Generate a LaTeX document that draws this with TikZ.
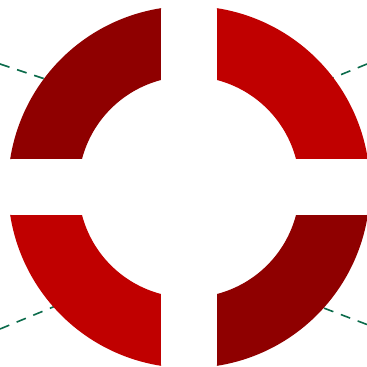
\documentclass[tikz,border=0pt]{standalone}
\usepackage{xcolor}
\usepackage{tikz}
\usetikzlibrary{calc}
\definecolor{ringdark}{HTML}{8f0000}
\definecolor{ringred}{HTML}{c00000}
\definecolor{guidegreen}{HTML}{0b6b4b}

\begin{document}
\begin{tikzpicture}[
  seg/.style={draw=none},
  darkseg/.style={seg,fill=ringdark},
  redseg/.style={seg,fill=ringred},
  guide/.style={draw=guidegreen,line width=1.6bp,dash pattern=on 10bp off 8bp}
]
\useasboundingbox (-189bp,-180bp) rectangle (178bp,187bp);
% guide lines, behind the ring
\coordinate (tlout) at (-189bp,123bp);  \coordinate (tlin) at (-129bp,103bp);
\coordinate (trout) at (178bp,123bp);   \coordinate (trin) at (129bp,103bp);
\coordinate (blout) at (-189bp,-142bp); \coordinate (blin) at (-119bp,-113bp);
\coordinate (brout) at (178bp,-137.5bp); \coordinate (brin) at (111bp,-112bp);
\draw[guide] (tlout) -- (tlin);
\draw[guide] (trout) -- (trin);
\draw[guide] (blout) -- (blin);
\draw[guide] (brout) -- (brin);
% four ring segments
\fill[darkseg] (98.9:181bp) -- (104.67:110.6bp) arc[start angle=104.67, end angle=165.33, radius=110.6bp] -- (171.1:181bp) arc[start angle=171.1, end angle=98.9, radius=181bp] -- cycle;
\fill[redseg] (81.1:181bp) -- (75.33:110.6bp) arc[start angle=75.33, end angle=14.67, radius=110.6bp] -- (8.9:181bp) arc[start angle=8.9, end angle=81.1, radius=181bp] -- cycle;
\fill[redseg] (188.9:181bp) -- (194.67:110.6bp) arc[start angle=194.67, end angle=255.33, radius=110.6bp] -- (261.1:181bp) arc[start angle=261.1, end angle=188.9, radius=181bp] -- cycle;
\fill[darkseg] (-81.1:181bp) -- (-75.33:110.6bp) arc[start angle=-75.33, end angle=-14.67, radius=110.6bp] -- (-8.9:181bp) arc[start angle=-8.9, end angle=-81.1, radius=181bp] -- cycle;
\end{tikzpicture}
\end{document}
